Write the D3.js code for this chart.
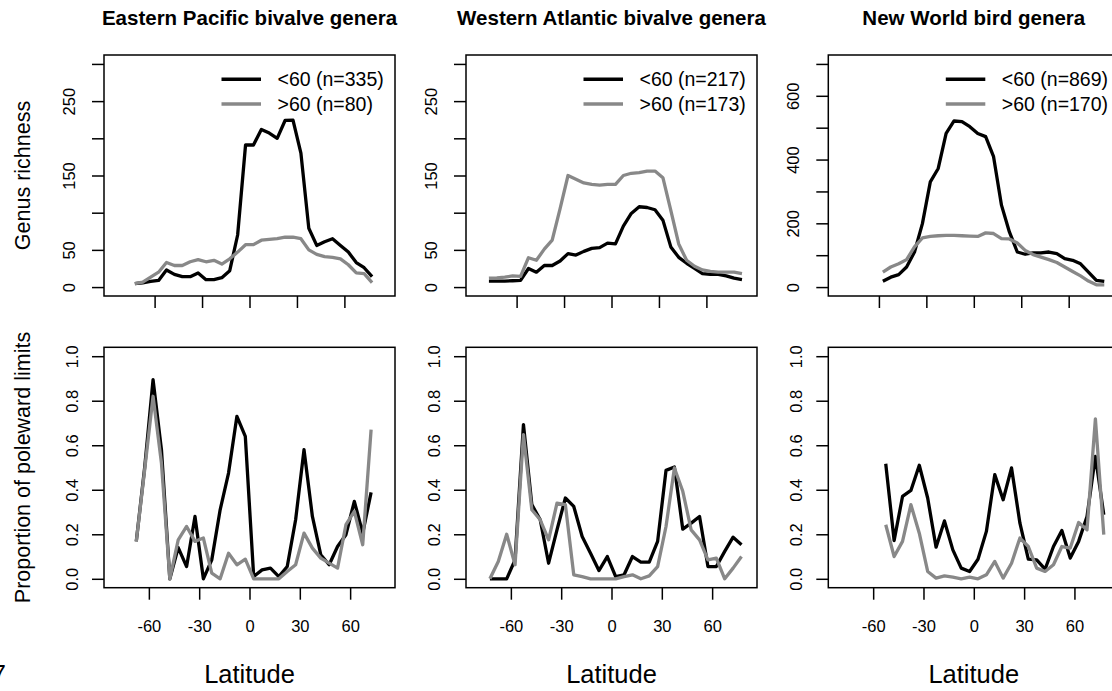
<!DOCTYPE html>
<html>
<head>
<meta charset="utf-8">
<script src="https://cdn.jsdelivr.net/npm/d3@7"></script>
<style>
  body { margin: 0; background: #fff; }
  svg { display: block; font-family: "Liberation Sans", Arial, Helvetica, sans-serif; }
</style>
</head>
<body>
<div id="chart"></div>
<script>
// panel titles and legend labels
var titles = ["Eastern Pacific bivalve genera", "Western Atlantic bivalve genera", "New World bird genera"];
var legendLt = ["<60 (n=335)", "<60 (n=217)", "<60 (n=869)"];
var legendGt = [">60 (n=80)", ">60 (n=173)", ">60 (n=170)"];

// latitude bins (midpoints) for the richness panels
var latEP = [-72.5, -67.5, -62.5, -57.5, -52.5, -47.5, -42.5, -37.5, -32.5, -27.5, -22.5, -17.5, -12.5, -7.5, -2.5,
  2.5, 7.5, 12.5, 17.5, 22.5, 27.5, 32.5, 37.5, 42.5, 47.5, 52.5, 57.5, 62.5, 67.5, 72.5, 77.5];
var latWA = [-77.5, -72.5, -67.5, -62.5, -57.5, -52.5, -47.5, -42.5, -37.5, -32.5, -27.5, -22.5, -17.5, -12.5, -7.5, -2.5,
  2.5, 7.5, 12.5, 17.5, 22.5, 27.5, 32.5, 37.5, 42.5, 47.5, 52.5, 57.5, 62.5, 67.5, 72.5, 77.5, 82.5];
var latNW = [-57.5, -52.5, -47.5, -42.5, -37.5, -32.5, -27.5, -22.5, -17.5, -12.5, -7.5, -2.5,
  2.5, 7.5, 12.5, 17.5, 22.5, 27.5, 32.5, 37.5, 42.5, 47.5, 52.5, 57.5, 62.5, 67.5, 72.5, 77.5, 82.5];

// genus richness
var richEP_lt = [4.5, 5.8, 7.6, 9, 23, 17, 14, 14, 19, 10, 10, 12.6, 22, 70, 191, 191, 212, 207, 200, 224, 224.5, 180, 79, 56, 61, 65, 56, 47, 33, 26, 14];
var richEP_gt = [4.5, 6.7, 13.5, 20, 33, 29, 29, 34, 37, 34, 36, 31, 38, 47, 57, 57, 63, 64, 65, 67, 67, 65, 50, 44, 41, 40, 38, 30, 19, 18, 6];
var richWA_lt = [8, 8, 8, 8.5, 9, 25, 20, 29, 29, 35, 45, 43, 48, 52, 53, 59, 58, 82, 99, 108, 107, 104, 90, 54, 40, 32, 25, 18, 17, 17, 15, 12, 10];
var richWA_gt = [12, 12.5, 13.5, 15, 14.4, 39.5, 36, 51, 63, 105.5, 150, 145, 140, 138, 137, 138, 138, 150, 153, 154, 156, 156, 147, 103, 58, 36, 28, 23, 21, 20, 20, 20, 18];
var richNW_lt = [18, 31, 39, 63, 110, 199, 330, 372, 482, 521, 519, 503, 482, 472, 409, 257, 173, 110, 103, 107, 107, 110, 105, 89, 84, 73, 47, 21, 18];
var richNW_gt = [47, 63, 73, 86, 126, 154, 159, 161, 162, 162, 161, 160, 159, 170, 168, 152, 151, 138, 115, 102, 94, 86, 77, 63, 49, 35, 19, 7, 7];

// latitude bins for the poleward-limit panels
var latEP2 = [-67.5, -62.5, -57.5, -52.5, -47.5, -42.5, -37.5, -32.5, -27.5, -22.5, -17.5, -12.5, -7.5, -2.5,
  2.5, 7.5, 12.5, 17.5, 22.5, 27.5, 32.5, 37.5, 42.5, 47.5, 52.5, 57.5, 62.5, 67.5, 72.5];
var latWA2 = [-72.5, -67.5, -62.5, -57.5, -52.5, -47.5, -42.5, -37.5, -32.5, -27.5, -22.5, -17.5, -12.5, -7.5, -2.5,
  2.5, 7.5, 12.5, 17.5, 22.5, 27.5, 32.5, 37.5, 42.5, 47.5, 52.5, 57.5, 62.5, 67.5, 72.5, 77.5];
var latNW2 = [-52.5, -47.5, -42.5, -37.5, -32.5, -27.5, -22.5, -17.5, -12.5, -7.5, -2.5,
  2.5, 7.5, 12.5, 17.5, 22.5, 27.5, 32.5, 37.5, 42.5, 47.5, 52.5, 57.5, 62.5, 67.5, 72.5, 77.5];

// proportion of poleward limits
var propEP_lt = [0.168, 0.5, 0.895, 0.58, 0, 0.14, 0.055, 0.28, 0, 0.085, 0.31, 0.475, 0.73, 0.64, 0.01, 0.04, 0.048, 0.01, 0.055, 0.265, 0.58, 0.28, 0.108, 0.063, 0.145, 0.198, 0.348, 0.205, 0.388];
var propEP_gt = [0.168, 0.49, 0.82, 0.52, 0, 0.175, 0.235, 0.168, 0.183, 0.025, 0, 0.115, 0.063, 0.088, 0, 0, 0, 0, 0.033, 0.063, 0.205, 0.138, 0.093, 0.07, 0.048, 0.243, 0.303, 0.153, 0.67];
var propWA_lt = [0, 0, 0, 0.085, 0.693, 0.333, 0.265, 0.07, 0.22, 0.363, 0.325, 0.19, 0.115, 0.037, 0.1, 0.01, 0.018, 0.1, 0.075, 0.075, 0.168, 0.487, 0.502, 0.223, 0.25, 0.28, 0.055, 0.055, 0.123, 0.187, 0.153];
var propWA_gt = [0, 0.078, 0.2, 0.063, 0.648, 0.31, 0.265, 0.175, 0.34, 0.333, 0.018, 0.01, 0, 0, 0, 0, 0.01, 0.018, 0, 0.013, 0.055, 0.235, 0.498, 0.393, 0.22, 0.175, 0.085, 0.093, 0, 0.048, 0.1];
var propNW_lt = [0.517, 0.172, 0.37, 0.397, 0.51, 0.363, 0.142, 0.26, 0.13, 0.048, 0.033, 0.088, 0.213, 0.468, 0.355, 0.498, 0.25, 0.088, 0.085, 0.043, 0.145, 0.217, 0.093, 0.168, 0.28, 0.55, 0.288];
var propNW_gt = [0.243, 0.1, 0.168, 0.333, 0.205, 0.033, 0.003, 0.013, 0.007, 0, 0.007, 0, 0.018, 0.078, 0.003, 0.07, 0.183, 0.145, 0.048, 0.033, 0.063, 0.145, 0.138, 0.253, 0.22, 0.718, 0.198];

// tick values and labels
var latTicks = [-60, -30, 0, 30, 60];
var latLabels = ["-60", "-30", "0", "30", "60"];
var richTicks = [0, 50, 100, 150, 200, 250, 300];
var richLabels = ["0", "50", "", "150", "", "250", ""];
var birdTicks = [0, 100, 200, 300, 400, 500, 600, 700];
var birdLabels = ["0", "", "200", "", "400", "", "600", ""];
var propTicks = [0, 0.2, 0.4, 0.6, 0.8, 1.0];
var propLabels = ["0.0", "0.2", "0.4", "0.6", "0.8", "1.0"];

var svgWidth = 1112;
var svgHeight = 691;
var boxW = 291;
var colLeft = [104, 466, 828.3];
var topRow = { top: 55, bottom: 296 };
var botRow = { top: 347.3, bottom: 587.7 };
var grey = "#888888";

var svg = d3.select("#chart")
  .append("svg")
  .attr("width", svgWidth)
  .attr("height", svgHeight);

svg.append("rect").attr("width", svgWidth).attr("height", svgHeight).attr("fill", "#fff");

function drawPanel(p) {
  var x = d3.scaleLinear().domain(p.xDom).range([p.left, p.left + boxW]);
  var y = d3.scaleLinear().domain(p.yDom).range([p.bottom, p.top]);

  // y axis, labels parallel to the axis
  var ya = svg.append("g")
    .attr("transform", `translate(${p.left},0)`)
    .attr("font-family", null)
    .call(d3.axisLeft(y).tickValues(p.yTicks).tickSize(12).tickFormat((d, i) => p.yLabels[i]));
  ya.select(".domain").remove();
  ya.selectAll("line").attr("stroke", "#000").attr("stroke-width", 1.5);
  ya.selectAll("text")
    .attr("transform", "rotate(-90)")
    .attr("x", 0)
    .attr("y", p.labOff)
    .attr("dy", 0)
    .attr("text-anchor", "middle")
    .attr("font-size", 16.5)
    .attr("fill", "#000");

  // x axis
  var xa = svg.append("g")
    .attr("transform", `translate(0,${p.bottom})`)
    .attr("font-family", null)
    .call(d3.axisBottom(x).tickValues(latTicks).tickSize(12).tickFormat((d, i) => p.showX ? latLabels[i] : ""));
  xa.select(".domain").remove();
  xa.selectAll("line").attr("stroke", "#000").attr("stroke-width", 1.5);
  xa.selectAll("text")
    .attr("y", 44.5)
    .attr("dy", 0)
    .attr("font-size", 16.5)
    .attr("fill", "#000");

  // box
  svg.append("rect")
    .attr("x", p.left)
    .attr("y", p.top)
    .attr("width", boxW)
    .attr("height", p.bottom - p.top)
    .attr("fill", "none")
    .attr("stroke", "#000")
    .attr("stroke-width", 1.5);

  var line = d3.line()
    .x((d, i) => x(p.lat[i]))
    .y(d => y(d));

  svg.append("path")
    .attr("d", line(p.lt))
    .attr("fill", "none")
    .attr("stroke", "#000")
    .attr("stroke-width", 3.3)
    .attr("stroke-linejoin", "round");

  svg.append("path")
    .attr("d", line(p.gt))
    .attr("fill", "none")
    .attr("stroke", grey)
    .attr("stroke-width", 3.3)
    .attr("stroke-linejoin", "round");

  return x;
}

var topData = [[latEP, richEP_lt, richEP_gt], [latWA, richWA_lt, richWA_gt], [latNW, richNW_lt, richNW_gt]];
var botData = [[latEP2, propEP_lt, propEP_gt], [latWA2, propWA_lt, propWA_gt], [latNW2, propNW_lt, propNW_gt]];

topData.forEach(function(d, c) {
  var left = colLeft[c];
  var bird = c === 2;
  drawPanel({
    left: left, top: topRow.top, bottom: topRow.bottom,
    xDom: [-92, 92],
    yDom: bird ? [-28, 728] : [-12, 312],
    yTicks: bird ? birdTicks : richTicks,
    yLabels: bird ? birdLabels : richLabels,
    labOff: -29.5,
    lat: d[0], lt: d[1], gt: d[2],
    showX: false
  });

  // title
  svg.append("text")
    .attr("x", left + boxW / 2)
    .attr("y", 25)
    .attr("text-anchor", "middle")
    .attr("font-weight", "bold")
    .attr("font-size", 20.5)
    .text(titles[c]);

  // legend
  var legY = [79.3, 104];
  [["#000", legendLt[c]], [grey, legendGt[c]]].forEach(function(item, k) {
    svg.append("line")
      .attr("x1", left + 117.5)
      .attr("x2", left + 157)
      .attr("y1", legY[k])
      .attr("y2", legY[k])
      .attr("stroke", item[0])
      .attr("stroke-width", 3.6);
    svg.append("text")
      .attr("x", left + 173.5)
      .attr("y", legY[k])
      .attr("dy", "0.35em")
      .attr("font-size", 19.5)
      .text(item[1]);
  });
});

botData.forEach(function(d, c) {
  var left = colLeft[c];
  var x = drawPanel({
    left: left, top: botRow.top, bottom: botRow.bottom,
    xDom: [-86.75, 86.75],
    yDom: [-0.04, 1.04],
    yTicks: propTicks,
    yLabels: propLabels,
    labOff: -26,
    lat: d[0], lt: d[1], gt: d[2],
    showX: true
  });

  svg.append("text")
    .attr("x", x(0))
    .attr("y", 683)
    .attr("text-anchor", "middle")
    .attr("font-size", 25.5)
    .text("Latitude");
});

// axis titles
svg.append("text")
  .attr("transform", `translate(30,${(topRow.top + topRow.bottom) / 2}) rotate(-90)`)
  .attr("text-anchor", "middle")
  .attr("font-size", 21.5)
  .text("Genus richness");

svg.append("text")
  .attr("transform", `translate(30,${(botRow.top + botRow.bottom) / 2}) rotate(-90)`)
  .attr("text-anchor", "middle")
  .attr("font-size", 21.5)
  .text("Proportion of poleward limits");

// stray page mark at the left edge
svg.append("text")
  .attr("x", 6)
  .attr("y", 683)
  .attr("text-anchor", "end")
  .attr("font-size", 25.5)
  .text("7");
</script>
</body>
</html>
